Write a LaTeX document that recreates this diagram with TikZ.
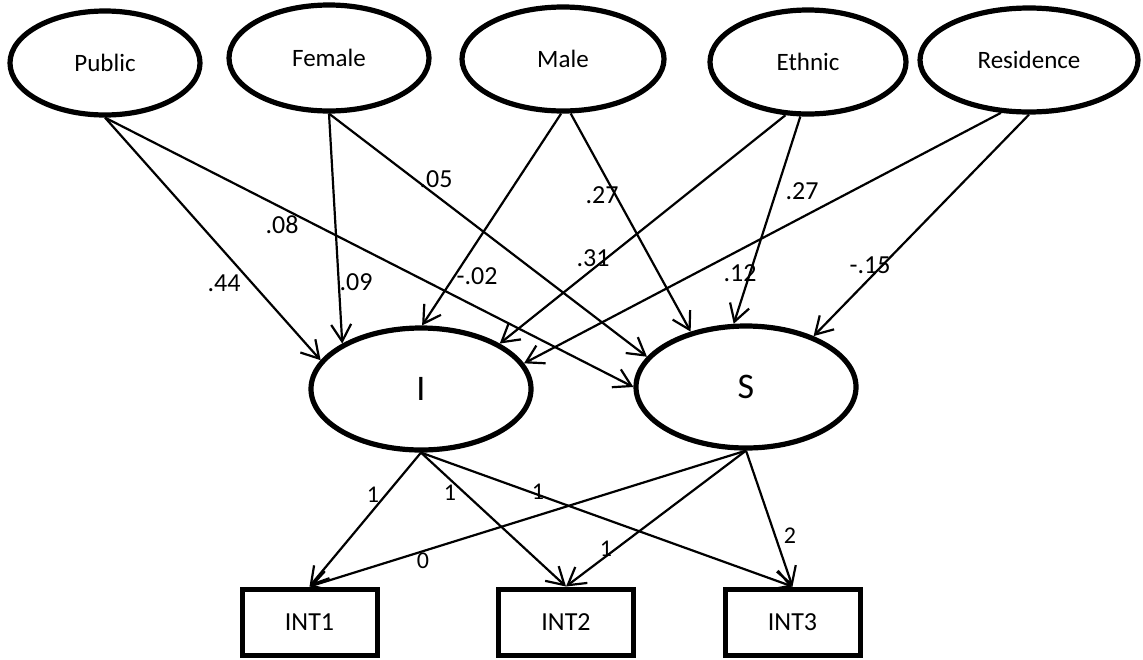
\documentclass[tikz,border=0pt]{standalone}
\usepackage{fontspec}
\setmainfont{Carlito}
\usetikzlibrary{shapes.geometric,arrows.meta}
\begin{document}
\begin{tikzpicture}[x=0.5pt,y=-0.5pt,
  factor/.style={ellipse,draw,line width=2.6pt,inner sep=0pt,
    font=\fontsize{12.5}{14}\selectfont},
  latent/.style={ellipse,draw,line width=2.6pt,inner sep=0pt,
    minimum width=110pt,minimum height=61pt,font=\fontsize{18}{20}\selectfont},
  indicator/.style={rectangle,draw,line width=2.5pt,inner sep=0pt,
    minimum width=67.5pt,minimum height=33pt,font=\fontsize{13}{15}\selectfont},
  effect/.style={line width=1.1pt,-{Straight Barb[length=8.5pt,width=10pt]}},
  coef/.style={inner sep=0pt,font=\fontsize{13}{15}\selectfont},
  load/.style={inner sep=0pt,font=\fontsize{12}{14}\selectfont}]
\useasboundingbox (0,0) rectangle (1143,659);

% covariates
\node[factor,minimum width=95pt,minimum height=52pt]  (pub)  at (105,63)  {Public};
\node[factor,minimum width=100pt,minimum height=53pt] (fem)  at (329,58)  {Female};
\node[factor,minimum width=101pt,minimum height=52pt] (male) at (563,59)  {Male};
\node[factor,minimum width=98pt,minimum height=52pt]  (eth)  at (808,62)  {Ethnic};
\node[factor,minimum width=109pt,minimum height=52pt] (res)  at (1029,60) {Residence};

% growth factors
\node[latent] (I) at (421,389) {I};
\node[latent] (S) at (746,387) {S};

% observed measures
\node[indicator] (int1) at (309.5,622) {INT1};
\node[indicator] (int2) at (566,622)   {INT2};
\node[indicator] (int3) at (792.5,622) {INT3};

% covariate effects
\draw[effect] (pub.south) -- (I.164);
\draw[effect] (pub.south) -- (S.west);
\draw[effect] (fem.south) -- (I.150);
\draw[effect] (fem.south) -- (S.163);
\draw[effect] (male.268) -- (I.89);
\draw[effect] (male.278) -- (S.135);
\draw[effect] (eth.247) -- (I.30);
\draw[effect] (eth.262) -- (S.101);
\draw[effect] (res.242) -- (I.14);
\draw[effect] (res.south) -- (S.37);

% factor loadings
\draw[effect] (I.south) -- (int1.north);
\draw[effect] (I.south) -- (int2.north);
\draw[effect] (I.south) -- (int3.north);
\draw[effect] (S.south) -- (int1.north);
\draw[effect] (S.south) -- (int2.north);
\draw[effect] (S.south) -- (int3.north);

% path coefficients
\node[coef] (c44) at (224,283) {.44};
\node[coef] (c08) at (282,225) {.08};
\node[coef] (c09) at (356,282) {.09};
\node[coef] (c05) at (436,179) {.05};
\node[coef] (cm02) at (477,276) {-.02};
\node[coef] (c27a) at (602,195) {.27};
\node[coef] (c31) at (593,258) {.31};
\node[coef] (c12) at (740,273) {.12};
\node[coef] (c27b) at (802,191) {.27};
\node[coef] (cm15) at (870,265) {-.15};

% loading values
\node[load] (l1a) at (373,495) {1};
\node[load] (l1b) at (450,493) {1};
\node[load] (l1c) at (538,492) {1};
\node[load] (l0)  at (423,561) {0};
\node[load] (l1d) at (606,549) {1};
\node[load] (l2)  at (790,536) {2};
\end{tikzpicture}
\end{document}
